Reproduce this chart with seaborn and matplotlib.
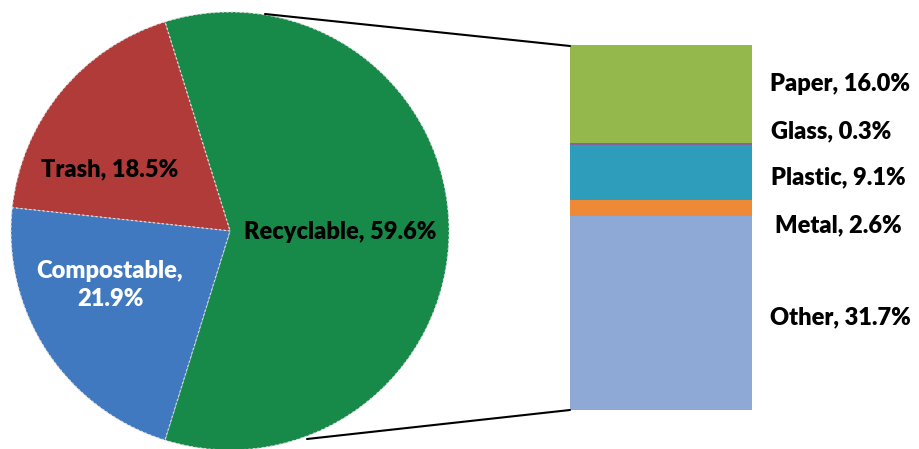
import matplotlib
matplotlib.use("Agg")
import matplotlib.pyplot as plt
import seaborn as sns
import numpy as np
from matplotlib.lines import Line2D

# ---- data ----
pie_labels = ["Recyclable", "Trash", "Compostable"]
pie_values = [59.6, 18.5, 21.9]
pie_colors = ["#178A4A", "#B13B38", "#4079C0"]

bar_labels = ["Other", "Metal", "Plastic", "Glass", "Paper"]
bar_values = [31.7, 2.6, 9.1, 0.3, 16.0]
bar_colors = ["#8EA9D6", "#EE8A35", "#2E9CBB", "#8064A2", "#94B84C"]

sns.set_theme(style="white")
plt.rcParams['font.family'] = ['Lato', 'DejaVu Sans']

W, H = 920, 449
fig = plt.figure(figsize=(W / 100, H / 100), dpi=100)

def px_axes(x0, y0_top, w, h):
    return fig.add_axes([x0 / W, (H - y0_top - h) / H, w / W, h / H])

FS = 17
FW = "heavy"

# ---- pie ----
cx, cy, r = 230, 231, 219
ax1 = px_axes(cx - r, cy - r, 2 * r, 2 * r)
start = -pie_values[0] / 100 * 360 / 2
wedges, _ = ax1.pie(pie_values, colors=pie_colors, startangle=start,
                    counterclock=True, radius=1,
                    wedgeprops=dict(edgecolor="#DDDDDD", linewidth=0.8, linestyle=(0, (2, 2))))
ax1.set_xlim(-1, 1)
ax1.set_ylim(-1, 1)
ax1.set_aspect("equal")
ax1.axis("off")

def pie_text(px, py, s, color):
    ax1.text((px - cx) / r, -(py - cy) / r, s, ha="center", va="center",
             fontsize=FS, fontweight=FW, color=color, linespacing=1.3)

pie_text(110, 169, f"{pie_labels[1]}, {pie_values[1]}%", "black")
pie_text(110, 285, f"{pie_labels[2]},\n{pie_values[2]}%", "white")
pie_text(340, 232, f"{pie_labels[0]}, {pie_values[0]}%", "black")

# ---- stacked bar ----
ax2 = px_axes(570, 45, 182, 365)
total = sum(bar_values)
bottoms = np.concatenate([[0], np.cumsum(bar_values)[:-1]])
for v, b, c in zip(bar_values, bottoms, bar_colors):
    ax2.bar([0], [v], bottom=[b], width=1.0, color=c, edgecolor="none")
ax2.set_xlim(-0.5, 0.5)
ax2.set_ylim(0, total)
ax2.axis("off")

label_y = {"Paper": 84, "Glass": 131, "Plastic": 177, "Metal": 225, "Other": 317}
label_x = {"Paper": 770, "Glass": 771, "Plastic": 771, "Metal": 775, "Other": 770}
for lab, v in zip(bar_labels, bar_values):
    fig.text(label_x[lab] / W, (H - label_y[lab]) / H, f"{lab}, {v:.1f}%",
             ha="left", va="center", fontsize=FS, fontweight=FW, color="black")

# ---- connector lines ----
def px_line(x0, y0, x1, y1):
    fig.add_artist(Line2D([x0 / W, x1 / W], [(H - y0) / H, (H - y1) / H],
                          color="black", linewidth=1.5, transform=fig.transFigure))

px_line(265, 14, 570, 46)
px_line(307, 439, 570, 410)

fig.savefig("out.png", dpi=100, facecolor="white")
